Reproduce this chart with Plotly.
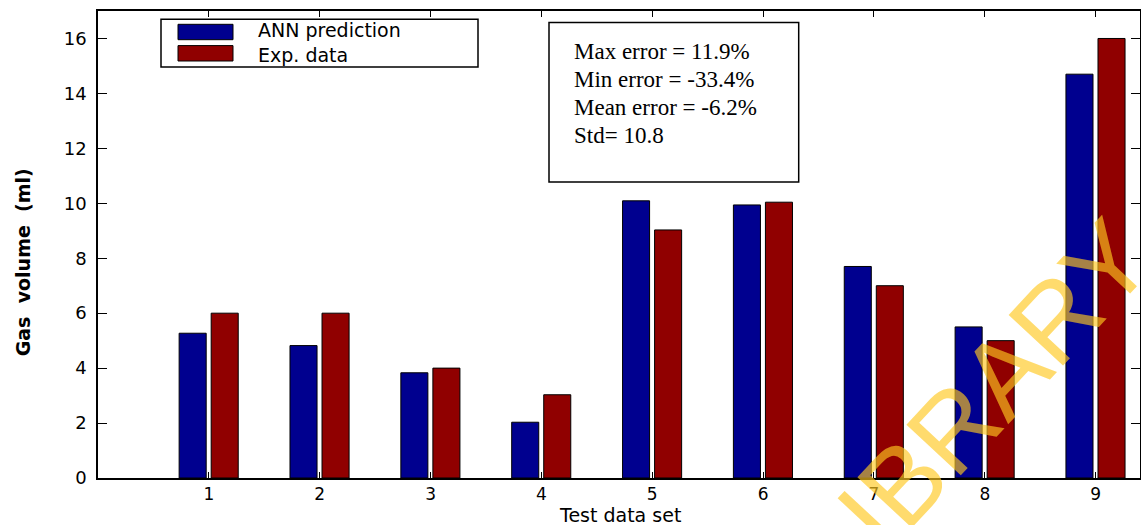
import plotly.graph_objects as go

# ---- data ----
test_sets = [1, 2, 3, 4, 5, 6, 7, 8, 9]
ann_prediction = [5.27, 4.82, 3.83, 2.03, 10.09, 9.94, 7.70, 5.50, 14.70]
exp_data = [6.0, 6.0, 4.0, 3.03, 9.03, 10.04, 7.0, 5.0, 16.0]
series_names = ["ANN prediction", "Exp. data"]
stats_lines = ["Max error = 11.9%", "Min error = -33.4%", "Mean error = -6.2%", "Std= 10.8"]
y_ticks = [0, 2, 4, 6, 8, 10, 12, 14, 16]
x_title = "Test data set"
y_title = "Gas  volume  (ml)"

W, H = 1141, 525
L, R, T, B = 98, 1140, 10.7, 477.7
PW, PH = R - L, B - T


def px(x):
    return (x - L) / PW


def py(y):
    return 1 - (y - T) / PH


BLUE = "#00008f"
RED = "#900000"

fig = go.Figure()
fig.add_trace(go.Bar(x=test_sets, y=ann_prediction, name=series_names[0],
                     offset=-0.268, width=0.244, showlegend=False,
                     marker=dict(color=BLUE, line=dict(color="black", width=1))))
fig.add_trace(go.Bar(x=test_sets, y=exp_data, name=series_names[1],
                     offset=0.021, width=0.244, showlegend=False,
                     marker=dict(color=RED, line=dict(color="black", width=1))))

fig.update_layout(
    width=W, height=H,
    margin=dict(l=L, r=W - R, t=T, b=H - B, pad=0, autoexpand=False),
    plot_bgcolor="white", paper_bgcolor="white",
    barmode="overlay",
    xaxis=dict(range=[0, 9.4], tickvals=test_sets, ticktext=[str(v) for v in test_sets],
               showline=True, linecolor="black", linewidth=1.5, mirror="ticks",
               ticks="inside", ticklen=6, tickcolor="black", showgrid=False, zeroline=False,
               tickfont=dict(family="DejaVu Sans", size=17, color="black"),
               ticklabelstandoff=0, automargin=False),
    yaxis=dict(range=[0, 17], tickvals=y_ticks,
               showline=True, linecolor="black", linewidth=1.5, mirror="ticks",
               ticks="inside", ticklen=9, tickcolor="black", showgrid=False, zeroline=False,
               tickfont=dict(family="DejaVu Sans", size=18, color="black"),
               ticklabelstandoff=6, automargin=False),
)

shapes = []
annotations = []
# axis titles
annotations.append(dict(xref="paper", yref="paper", x=px(620), y=py(514.5), text=x_title, showarrow=False,
                        xanchor="center", yanchor="middle",
                        font=dict(family="DejaVu Sans", size=19, color="black")))
annotations.append(dict(xref="paper", yref="paper", x=px(23), y=py(262), text="<b>" + y_title + "</b>",
                        showarrow=False, textangle=-90, xanchor="center", yanchor="middle",
                        font=dict(family="DejaVu Sans", size=19, color="black")))
# legend (manual)
shapes.append(dict(type="rect", xref="paper", yref="paper", x0=px(161), x1=px(478), y0=py(66.7), y1=py(19),
                   line=dict(color="black", width=1.5), fillcolor="white", layer="above"))
for col, yc in [(BLUE, 31.7), (RED, 53.0)]:
    shapes.append(dict(type="rect", xref="paper", yref="paper", x0=px(178), x1=px(233),
                       y0=py(yc + 7.7), y1=py(yc - 7.7), fillcolor=col,
                       line=dict(color="black", width=1), layer="above"))
annotations.append(dict(xref="paper", yref="paper", x=px(256), y=py(42.5), xanchor="left", yanchor="middle",
                        align="left", text="<br>".join(series_names), showarrow=False,
                        font=dict(family="DejaVu Sans", size=19, color="black")))
# stats box
shapes.append(dict(type="rect", xref="paper", yref="paper", x0=px(549), x1=px(798.7), y0=py(181.7), y1=py(22.3),
                   line=dict(color="black", width=1.5), fillcolor="white", layer="above"))
for i, line in enumerate(stats_lines):
    annotations.append(dict(xref="paper", yref="paper", x=px(572), y=py(51 + 28 * i),
                            xanchor="left", yanchor="middle", text=line, showarrow=False,
                            font=dict(family="Liberation Serif", size=23, color="black")))
# watermark
annotations.append(dict(xref="paper", yref="paper", x=px(994), y=py(384), text="IBRARY", showarrow=False,
                        textangle=-47, xanchor="center", yanchor="middle",
                        font=dict(family="Liberation Sans", size=108, color="rgba(255,200,30,0.65)")))

fig.update_layout(shapes=shapes, annotations=annotations)
fig.write_html("out.html", config={"displayModeBar": False},
               post_script="document.body.style.margin='0';document.body.style.overflow='hidden';")
